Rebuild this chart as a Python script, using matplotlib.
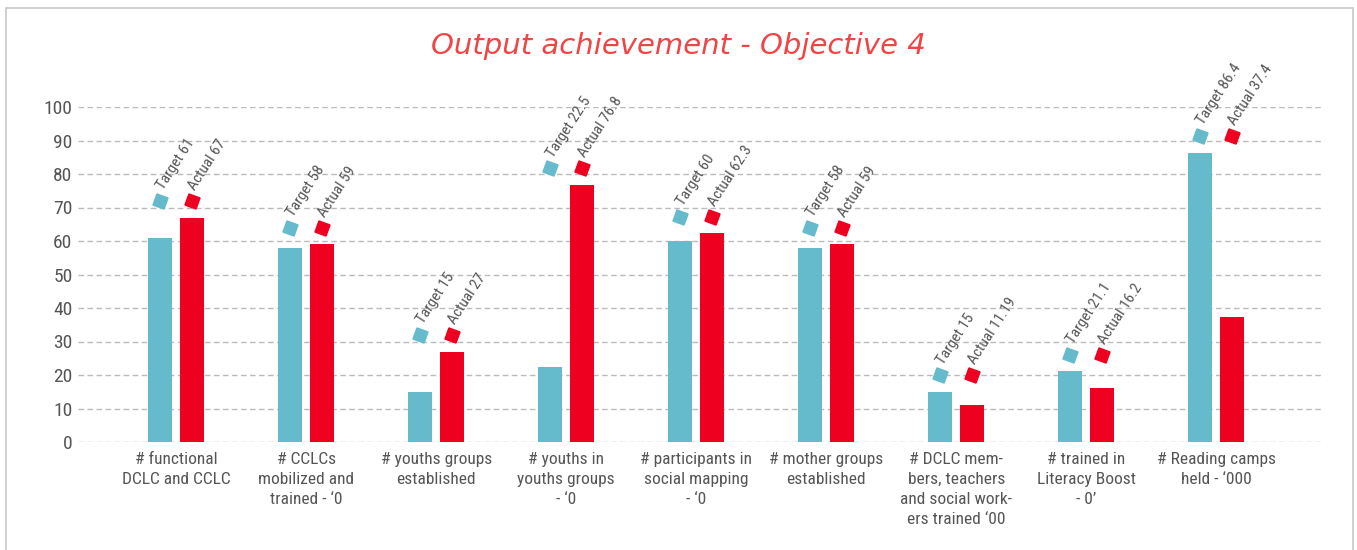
import matplotlib
matplotlib.use("Agg")
import matplotlib.pyplot as plt
from matplotlib.patches import Rectangle
from matplotlib import font_manager
import numpy as np

categories = [
    "# functional\nDCLC and CCLC",
    "# CCLCs\nmobilized and\ntrained - \u20180",
    "# youths groups\nestablished",
    "# youths in\nyouths groups\n- \u20180",
    "# participants in\nsocial mapping\n- \u20180",
    "# mother groups\nestablished",
    "# DCLC mem-\nbers, teachers\nand social work-\ners trained \u201800",
    "# trained in\nLiteracy Boost\n- 0\u2019",
    "# Reading camps\nheld - \u2018000",
]
target = [61, 58, 15, 22.5, 60, 58, 15, 21.1, 86.4]
actual = [67, 59, 27, 76.8, 62.3, 59, 11.19, 16.2, 37.4]
target_labels = ["61", "58", "15", "22.5", "60", "58", "15", "21.1", "86.4"]
actual_labels = ["67", "59", "27", "76.8", "62.3", "59", "11.19", "16.2", "37.4"]
yticks = [0, 10, 20, 30, 40, 50, 60, 70, 80, 90, 100]
title = "Output achievement - Objective 4"

fonts = font_manager.fontManager.ttflist
avail = {f.name for f in fonts}
font_kw = None
for cand in ["Roboto Condensed", "Liberation Sans Narrow", "Arial Narrow", "Open Sans Condensed"]:
    if cand in avail:
        font_kw = dict(family=cand)
        scale = 1.0
        break
if font_kw is None:
    if any(f.name == "DejaVu Sans" and f.stretch == "condensed" for f in fonts):
        font_kw = dict(family="DejaVu Sans", stretch="condensed")
        scale = 0.95
    else:
        font_kw = dict(family="Roboto")
        scale = 0.88

CYAN = "#65BBCC"
RED = "#EE0020"
GRAY = "#555555"

fig = plt.figure(figsize=(13.57, 5.5), dpi=100)
ax = fig.add_axes([78/1357, 108/550, (1323-78)/1357, (442-107)/550])

x = np.arange(len(categories))
w = 0.185
off = 0.123
ax.bar(x - off, target, width=w, color=CYAN, zorder=3)
ax.bar(x + off, actual, width=w, color=RED, zorder=3)

for i in range(len(categories)):
    my = max(target[i], actual[i]) + 5
    ax.plot(x[i] - off, my, marker=(4, 0, 25), color=CYAN, markersize=12, clip_on=False, zorder=4)
    ax.plot(x[i] + off, my, marker=(4, 0, 25), color=RED, markersize=12, clip_on=False, zorder=4)
    ax.annotate("Target " + target_labels[i], (x[i] - off, my), xytext=(4, 6),
                textcoords="offset points", rotation=57, rotation_mode="anchor",
                ha="left", va="bottom", fontsize=11 * scale, color=GRAY,
                annotation_clip=False, **font_kw)
    ax.annotate("Actual " + actual_labels[i], (x[i] + off, my), xytext=(4, 6),
                textcoords="offset points", rotation=57, rotation_mode="anchor",
                ha="left", va="bottom", fontsize=11 * scale, color=GRAY,
                annotation_clip=False, **font_kw)

ax.set_xlim(-0.754, 8.82)
ax.set_ylim(0, 100)
ax.set_yticks(yticks)
ax.set_yticklabels([str(v) for v in yticks], fontsize=14 * scale, color=GRAY, **font_kw)
ax.set_xticks(x)
ax.set_xticklabels(categories, fontsize=12.5 * scale, color=GRAY, linespacing=1.42, **font_kw)
ax.tick_params(axis="both", length=0, pad=4)
ax.tick_params(axis="x", pad=7)
for s in ax.spines.values():
    s.set_visible(False)
ax.yaxis.grid(True, linestyle=(0, (4, 2.5)), color="#BBBBBB", linewidth=1, zorder=0)
ax.set_axisbelow(True)

fig.text(0.5, 1 - 46/550, title, ha="center", va="center", fontsize=21,
         color="#F04545", style="italic", family="DejaVu Sans")

fig.add_artist(Rectangle((6/1357, -0.05), (1353-6)/1357, 1.05 - 8/550,
                         transform=fig.transFigure, fill=False,
                         edgecolor="#C8C8C8", linewidth=1.2))

fig.savefig("out.png", dpi=100)
